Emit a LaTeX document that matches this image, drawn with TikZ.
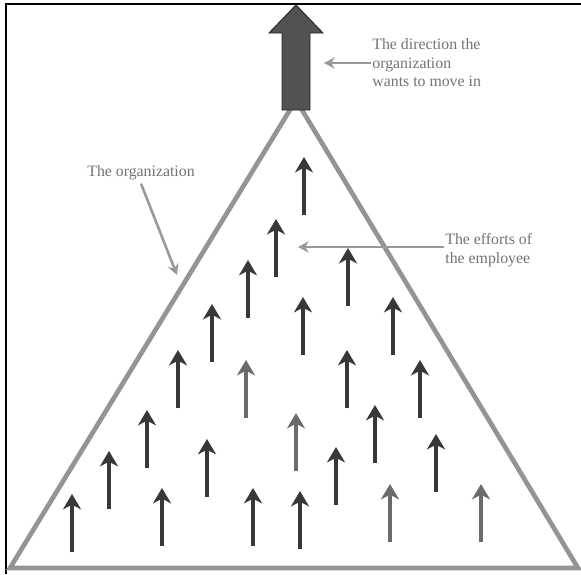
\documentclass[tikz,border=0pt]{standalone}
\usepackage{fontspec}
\setmainfont{Liberation Serif}
\usetikzlibrary{arrows.meta}

\begin{document}
\begin{tikzpicture}[x=0.03cm, y=-0.03cm,
		effort/.style={line width=3.2pt, black!78, -{Stealth[length=4.6mm, width=5.4mm, inset=1.4mm]}},
		faint/.style={black!58, line width=2.6pt},
		pointer/.style={line width=2.2pt, black!40, -{Stealth[length=3.2mm, width=3.4mm, inset=1mm]}},
		label/.style={text=black!55, font=\fontsize{13.5}{15.8}\selectfont, inner sep=1pt}]
			\useasboundingbox (0,0) rectangle (581,574);
			\draw[line width=1.6pt] (6,574) -- (6,4) -- (581,4);
			\draw[line width=4pt, black!42, line join=miter] (296,100) -- (578,568) -- (10,568) -- cycle;
			\filldraw[fill=black!68, draw=black!85, line width=0.8pt] (282,110) -- (282,33) -- (269,33) -- (296,5) -- (323,33) -- (310,33) -- (310,110) -- cycle;
			\foreach \x/\b in {304/215, 276/277, 248/318, 348/306, 212/362, 303/355, 393/355, 178/408, 347/408, 420/418, 147/468, 375/463, 109/509, 207/497, 336/505, 436/492, 72/552, 162/546, 253/546, 300/549}
				\draw[effort] (\x,\b) -- ++(0,-58);
			\foreach \x/\b in {246/418, 296/471, 390/542, 481/542}
				\draw[effort, faint] (\x,\b) -- ++(0,-58);
			\node[label, anchor=west, align=left] (dirtext) at (371,63) {The direction the\\organization\\wants to move in};
			\node[label] (orgtext) at (141,173) {The organization};
			\node[label, anchor=west, align=left] (efftext) at (444,250) {The efforts of\\the employee};
			\coordinate (dirtip) at (324,63);
			\coordinate (orgtip) at (177,275);
			\coordinate (efftip) at (298,247);
			\draw[pointer] (dirtext.west) -- (dirtip);
			\draw[pointer] (orgtext.south) ++(0,2) -- (orgtip);
			\draw[pointer] (efftext.west |- efftip) -- (efftip);
		\end{tikzpicture}
\end{document}
